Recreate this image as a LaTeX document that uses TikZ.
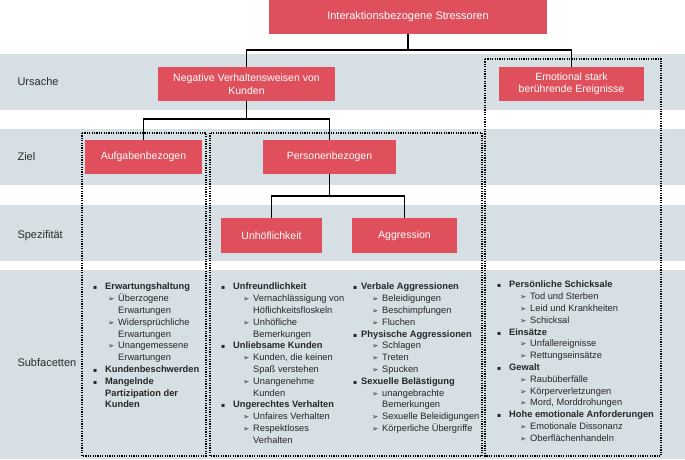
\documentclass[tikz,border=0pt]{standalone}
\usepackage{fontspec}
\setmainfont{Liberation Sans}
\newfontfamily\symf{DejaVu Sans}
\definecolor{boxred}{HTML}{E0505C}
\definecolor{bandgray}{HTML}{D6DFE4}
\definecolor{labelgray}{HTML}{2A2A2A}
\newlength\blw \newlength\arin \newlength\arw
\newcommand\colset[3]{\global\blw=#1\relax\global\arin=#2\relax\global\arw=#3\relax}
\newcommand\bitem[1]{\makebox[\blw][l]{\symf\fontsize{6}{6}\selectfont ▪}\textbf{#1}}
\newcommand\bcont[1]{\hspace*{\blw}\textbf{#1}}
\newcommand\aitem[1]{\hspace*{\arin}\makebox[\arw][l]{\symf\fontsize{7.5}{7.5}\selectfont ➢}#1}
\newcommand\acont[1]{\hspace*{\arin}\hspace*{\arw}#1}

\begin{document}
\begin{tikzpicture}[x=1pt,y=-1pt,
  box/.style={fill=boxred,text=white,align=center,inner sep=0pt,font=\fontsize{10.5}{12.5}\selectfont},
  band/.style={fill=bandgray,draw=none},
  rowlabel/.style={anchor=west,text=labelgray,font=\fontsize{11}{13}\selectfont},
  link/.style={line width=1.8pt},
  group/.style={line width=1.5pt,dash pattern=on 1.2pt off 1.2pt},
  facets/.style={anchor=north west,align=left,inner sep=0pt,text=black!85,font=\fontsize{9.3}{11.8}\selectfont}]
\useasboundingbox (0,0) rectangle (685,459);

% bands
\fill[band] (0,54) rectangle (685,110);
\fill[band] (0,129) rectangle (685,185);
\fill[band] (0,205) rectangle (685,261);
\fill[band] (0,270) rectangle (685,459);
\node[rowlabel] (ursache) at (14,82) {Ursache};
\node[rowlabel] (ziel) at (14,157) {Ziel};
\node[rowlabel] (spez) at (14,236) {Spezifität};
\node[rowlabel] (subf) at (14,363) {Subfacetten};

% groups
\draw[group] (82,133) rectangle (206,456);
\draw[group] (210,133) rectangle (482,456);
\draw[group] (485,59) rectangle (661,456);

% boxes
\node[box,minimum width=278pt,minimum height=34pt,font=\fontsize{11}{13}\selectfont] (stress) at (408,17) {Interaktionsbezogene Stressoren};
\node[box,minimum width=177pt,minimum height=34pt] (neg) at (246.5,84) {Negative Verhaltensweisen von\\Kunden};
\node[box,minimum width=145pt,minimum height=34pt] (emo) at (571.5,84) {Emotional stark\\berührende Ereignisse};
\node[box,minimum width=117pt,minimum height=34pt] (auf) at (143.5,157) {Aufgabenbezogen};
\node[box,minimum width=133pt,minimum height=34pt] (pers) at (329.5,157) {Personenbezogen};
\node[box,minimum width=101pt,minimum height=35pt] (unh) at (271.5,235.5) {Unhöflichkeit};
\node[box,minimum width=105pt,minimum height=35pt] (agg) at (404.5,235.5) {Aggression};

% links
\draw[link] (stress.south) -- ++(0,16) -| (neg.north);
\draw[link] (stress.south) -- ++(0,16) -| (emo.north);
\draw[link] (neg.south) -- ++(0,18) -| (auf.north);
\draw[link] (neg.south) -- ++(0,18) -| (pers.north);
\draw[link] (pers.south) -- ++(0,22) -| (unh.north);
\draw[link] (pers.south) -- ++(0,22) -| (agg.north);

% subfacetten
\node[facets] (aufl) at (93,283) {\colset{12pt}{15pt}{10pt}%
\bitem{Erwartungshaltung}\\
\aitem{Überzogene}\\ \acont{Erwartungen}\\
\aitem{Widersprüchliche}\\ \acont{Erwartungen}\\
\aitem{Unangemessene}\\ \acont{Erwartungen}\\
\bitem{Kundenbeschwerden}\\
\bitem{Mangelnde}\\ \bcont{Partizipation der}\\ \bcont{Kunden}};
\node[facets] (unhl) at (221,283) {\colset{12pt}{22pt}{10pt}%
\bitem{Unfreundlichkeit}\\
\aitem{Vernachlässigung von}\\ \acont{Höflichkeitsfloskeln}\\
\aitem{Unhöfliche}\\ \acont{Bemerkungen}\\
\bitem{Unliebsame Kunden}\\
\aitem{Kunden, die keinen}\\ \acont{Spaß verstehen}\\
\aitem{Unangenehme}\\ \acont{Kunden}\\
\bitem{Ungerechtes Verhalten}\\
\aitem{Unfaires Verhalten}\\
\aitem{Respektloses}\\ \acont{Verhalten}};
\node[facets] (aggl) at (353,283) {\colset{8pt}{19pt}{10pt}%
\bitem{Verbale Aggressionen}\\
\aitem{Beleidigungen}\\
\aitem{Beschimpfungen}\\
\aitem{Fluchen}\\
\bitem{Physische Aggressionen}\\
\aitem{Schlagen}\\
\aitem{Treten}\\
\aitem{Spucken}\\
\bitem{Sexuelle Belästigung}\\
\aitem{unangebrachte}\\ \acont{Bemerkungen}\\
\aitem{Sexuelle Beleidigungen}\\
\aitem{Körperliche Übergriffe}};
\node[facets] (emol) at (497,281) {\colset{12pt}{23pt}{10pt}%
\bitem{Persönliche Schicksale}\\
\aitem{Tod und Sterben}\\
\aitem{Leid und Krankheiten}\\
\aitem{Schicksal}\\
\bitem{Einsätze}\\
\aitem{Unfallereignisse}\\
\aitem{Rettungseinsätze}\\
\bitem{Gewalt}\\
\aitem{Raubüberfälle}\\
\aitem{Körperverletzungen}\\
\aitem{Mord, Morddrohungen}\\
\bitem{Hohe emotionale Anforderungen}\\
\aitem{Emotionale Dissonanz}\\
\aitem{Oberflächenhandeln}};
\end{tikzpicture}
\end{document}
